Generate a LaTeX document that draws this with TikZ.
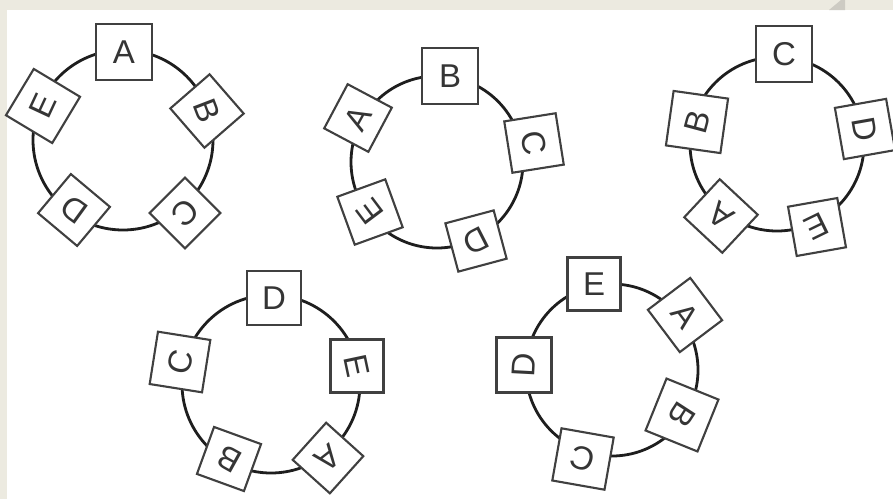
\documentclass[tikz,border=0pt]{standalone}
\usepackage{fontspec}
\setmainfont{Liberation Sans}
\definecolor{paper}{RGB}{236,234,224}
\definecolor{curl}{RGB}{205,203,195}
\definecolor{ink}{RGB}{30,30,30}
\begin{document}
\begin{tikzpicture}[x=1pt,y=-1pt,
  ring/.style={draw=ink,line width=2.8pt},
  card/.style={draw=ink!85,line width=2.1pt,fill=white,minimum size=#1,inner sep=0pt},
  glyph/.style={font=\fontsize{33}{33}\selectfont,text=ink!90,inner sep=0pt}]
% background and margins
\fill[paper] (0,0) rectangle (893,499);
\fill[white] (7,10) rectangle (893,499);
\fill[curl] (829,10) -- (841,0) -- (845,0) -- (845,10) -- cycle;
\useasboundingbox (0,0) rectangle (893,499);
% rings
\node[ring,circle,minimum size=180pt] (rA) at (123,140) {};
\node[ring,circle,minimum size=172pt] (rB) at (437,162) {};
\node[ring,circle,minimum size=174pt] (rC) at (777,144) {};
\node[ring,circle,minimum size=178pt] (rD) at (271,384) {};
\node[ring,circle,minimum size=172pt] (rE) at (612,370) {};
% ring A
\node[card=56pt] (a1) at (124,52) {};  \node[glyph] (la1) at (a1) {A};
\node[card=52pt,rotate=41] (a2) at (207,111) {}; \node[glyph,rotate=-69] (la2) at (a2) {B};
\node[card=50pt,rotate=45] (a3) at (185,213) {}; \node[glyph,rotate=-138] (la3) at (a3) {C};
\node[card=51pt,rotate=50] (a4) at (74,210) {};  \node[glyph,rotate=144] (la4) at (a4) {D};
\node[card=54pt,rotate=59] (a5) at (43,106) {};  \node[glyph,rotate=65] (la5) at (a5) {E};
% ring B
\node[card=56pt] (b1) at (450,76) {}; \node[glyph] (lb1) at (b1) {B};
\node[card=50pt,rotate=-28] (b2) at (358,118) {}; \node[glyph,rotate=61] (lb2) at (b2) {A};
\node[card=52pt,rotate=9] (b3) at (534,143) {};   \node[glyph,rotate=-79] (lb3) at (b3) {C};
\node[card=50pt,rotate=15] (b4) at (476,241) {};  \node[glyph,rotate=-153] (lb4) at (b4) {D};
\node[card=51pt,rotate=20] (b5) at (370,212) {};  \node[glyph,rotate=127] (lb5) at (b5) {E};
% ring C
\node[card=56pt] (c1) at (784,54) {}; \node[glyph] (lc1) at (c1) {C};
\node[card=55pt,rotate=-8] (c2) at (697,122) {};  \node[glyph,rotate=75] (lc2) at (c2) {B};
\node[card=52pt,rotate=10] (c3) at (865,129) {};  \node[glyph,rotate=-80] (lc3) at (c3) {D};
\node[card=50pt,rotate=10] (c4) at (817,227) {};  \node[glyph,rotate=-154] (lc4) at (c4) {E};
\node[card=52pt,rotate=47] (c5) at (721,216) {};  \node[glyph,rotate=142] (lc5) at (c5) {A};
% ring D
\node[card=54pt] (d1) at (274,298) {}; \node[glyph] (ld1) at (d1) {D};
\node[card=53pt,rotate=-9] (d2) at (180,362) {};  \node[glyph,rotate=76] (ld2) at (d2) {C};
\node[card=53pt] (d3) at (357,366) {};            \node[glyph,rotate=-78] (ld3) at (d3) {E};
\node[card=50pt,rotate=48] (d4) at (328,458) {};  \node[glyph,rotate=-142] (ld4) at (d4) {A};
\node[card=50pt,rotate=-20] (d5) at (229,459) {}; \node[glyph,rotate=151] (ld5) at (d5) {B};
% ring E
\node[card=53pt] (e1) at (594,284) {}; \node[glyph] (le1) at (e1) {E};
\node[card=55pt] (e2) at (524,365) {};            \node[glyph,rotate=87] (le2) at (e2) {D};
\node[card=53pt,rotate=37] (e3) at (685,315) {};  \node[glyph,rotate=-53] (le3) at (e3) {A};
\node[card=56pt,rotate=-22] (e4) at (682,415) {}; \node[glyph,rotate=-123] (le4) at (e4) {B};
\node[card=53pt,rotate=-10] (e5) at (583,459) {}; \node[glyph,rotate=162] (le5) at (e5) {C};
\end{tikzpicture}
\end{document}
